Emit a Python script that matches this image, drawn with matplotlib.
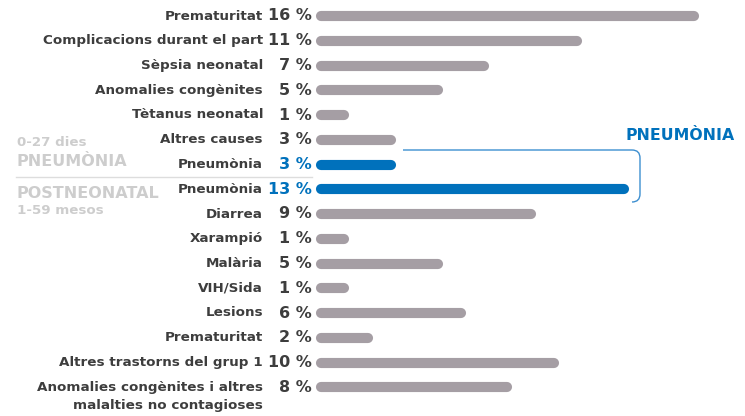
import matplotlib.pyplot as plt
from matplotlib.path import Path
from matplotlib.patches import PathPatch

labels = ["Prematuritat", "Complicacions durant el part", "Sèpsia neonatal",
          "Anomalies congènites", "Tètanus neonatal", "Altres causes",
          "Pneumònia", "Pneumònia", "Diarrea", "Xarampió", "Malària",
          "VIH/Sida", "Lesions", "Prematuritat", "Altres trastorns del grup 1",
          "Anomalies congènites i altres\nmalalties no contagioses"]
values = [16, 11, 7, 5, 1, 3, 3, 13, 9, 1, 5, 1, 6, 2, 10, 8]
highlight = [6, 7]

grey = "#a59ea4"
blue = "#0071bc"
txt = "#3d3d3d"
light = "#cdcdcd"
W, H = 745, 416
font = "DejaVu Sans"

fig = plt.figure(figsize=(7.45, 4.16), dpi=100)
# axes covering whole figure, pixel coordinates
ax = fig.add_axes([0, 0, 1, 1])
ax.set_xlim(0, W)
ax.set_ylim(H, 0)
ax.axis("off")

x0 = 321      # zero of bars (px)
scale = 23.3  # px per %
y_first = 16
dy = 24.75

for i, (lab, v) in enumerate(zip(labels, values)):
    y = y_first + i * dy
    c = blue if i in highlight else grey
    ax.plot([x0, x0 + v * scale], [y, y], color=c, lw=7.3,
            solid_capstyle="round")
    ax.text(312, y, f"{v} %", ha="right", va="center", fontsize=11.5,
            fontweight="bold", color=blue if i in highlight else txt,
            family=font)
    for k, part in enumerate(lab.split("\n")):
        ax.text(263, y + k * 18.5, part, ha="right", va="center",
                fontsize=9.7, fontweight="bold", color=txt, family=font)

# left group labels
ax.text(17, 143, "0-27 dies", fontsize=9.6, fontweight="bold", color=light,
        va="center", family=font)
ax.text(17, 162, "PNEUMÒNIA", fontsize=11.5, fontweight="bold", color=light,
        va="center", family=font)
ax.plot([16, 312], [177, 177], color="#dddddd", lw=1)
ax.text(17, 193, "POSTNEONATAL", fontsize=11.5, fontweight="bold", color=light,
        va="center", family=font)
ax.text(17, 210, "1-59 mesos", fontsize=9.6, fontweight="bold", color=light,
        va="center", family=font)

# bracket
verts = [(403, 150), (632, 150), (640, 150), (640, 158), (640, 194),
         (640, 202), (632, 202)]
codes = [Path.MOVETO, Path.LINETO, Path.CURVE3, Path.CURVE3, Path.LINETO,
         Path.CURVE3, Path.CURVE3]
ax.add_patch(PathPatch(Path(verts, codes), fill=False, edgecolor="#3d8fd0",
                       lw=1.0))
ax.text(735, 135, "PNEUMÒNIA", ha="right", va="center", fontsize=11.3,
        fontweight="bold", color=blue, family=font)

fig.savefig("out.png", dpi=100)
